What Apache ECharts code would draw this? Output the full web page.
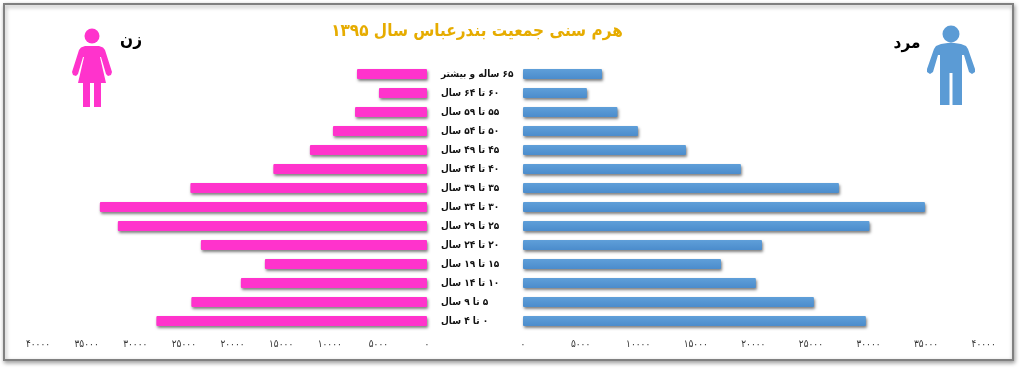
<!DOCTYPE html>
<html><head><meta charset="utf-8">
<style>html,body{margin:0;padding:0;background:#fff}#c{width:1024px;height:370px}</style>
<script src="https://cdn.jsdelivr.net/npm/echarts@6/dist/echarts.min.js"></script>
</head><body><div id="c" dir="rtl"></div>
<script>
const titleText = 'هرم سنی جمعیت بندرعباس سال ۱۳۹۵';
const maleLabel = 'مرد';
const femaleLabel = 'زن';
const categories = ['۶۵ ساله و بیشتر','۶۰ تا ۶۴ سال','۵۵ تا ۵۹ سال','۵۰ تا ۵۴ سال','۴۵ تا ۴۹ سال','۴۰ تا ۴۴ سال','۳۵ تا ۳۹ سال','۳۰ تا ۳۴ سال','۲۵ تا ۲۹ سال','۲۰ تا ۲۴ سال','۱۵ تا ۱۹ سال','۱۰ تا ۱۴ سال','۵ تا ۹ سال','۰ تا ۴ سال'];
const maleValues = [6860,5550,8200,9980,14150,18920,27430,34900,30080,20750,17190,20220,25260,29770];
const femaleValues = [7200,4940,7400,9670,12040,15800,24330,33640,31790,23250,16670,19140,24230,27830];
const toFa = v => String(v).replace(/\d/g, d => '۰۱۲۳۴۵۶۷۸۹'[d]);
const font = '"DejaVu Sans Condensed","DejaVu Sans"';
const xAxisCommon = {type:'value',min:0,max:40000,interval:5000,splitLine:{show:false},axisLine:{show:false},axisTick:{show:false},
  axisLabel:{formatter:toFa,fontFamily:font,fontSize:10,color:'#333',margin:9,hideOverlap:false,showMinLabel:true,showMaxLabel:true}};
const barStyle = c => ({color:c,shadowColor:'rgba(0,0,0,0.5)',shadowBlur:3,shadowOffsetX:1,shadowOffsetY:2,borderRadius:1});
const blue = {type:'linear',x:0,y:0,x2:0,y2:1,colorStops:[{offset:0,color:'#5f9fd9'},{offset:1,color:'#4b8ccc'}]};
const maleBody = [[941,44],[951,42.500],[961,44],[966,46],[968,49],[975,69],[975,72],[972,74],[969,72],[964,55],[962,55],[962,105],[952.500,105],[952.500,73],[949.500,73],[949.500,105],[940,105],[940,55],[938,55],[933,72],[930,74],[927,72],[927,69],[934,49],[936,46]];
const femaleBody = [[85,46],[99,46],[103,47.500],[105,50],[112,72],[111,75],[108,76],[106,74],[101,57],[100,57],[106,83],[101,83],[101,107],[94,107],[94,83],[90,83],[90,107],[83,107],[83,83],[78,83],[84,57],[83,57],[78,74],[76,76],[73,75],[72,72],[79,50],[81,47.500]];
const chart = echarts.init(document.getElementById('c'),null,{renderer:'canvas'});
chart.setOption({
  animation:false,
  backgroundColor:'#fff',
  grid:[{left:38,top:64.5,width:389,height:266},{left:523,top:64.5,width:460.7,height:266}],
  xAxis:[Object.assign({gridIndex:0,inverse:true},xAxisCommon),Object.assign({gridIndex:1},xAxisCommon)],
  yAxis:[
    {gridIndex:0,type:'category',inverse:true,data:categories,axisLine:{show:false},axisTick:{show:false},axisLabel:{show:false}},
    {gridIndex:1,type:'category',inverse:true,data:categories,axisLine:{show:false},axisTick:{show:false},
     axisLabel:{margin:82,align:'left',fontFamily:font,fontWeight:'bold',fontSize:10,color:'#111',interval:0}}
  ],
  series:[
    {name:femaleLabel,type:'bar',xAxisIndex:0,yAxisIndex:0,data:femaleValues,barWidth:10,itemStyle:barStyle('#ff33cc')},
    {name:maleLabel,type:'bar',xAxisIndex:1,yAxisIndex:1,data:maleValues,barWidth:10,itemStyle:barStyle(blue)}
  ],
  graphic:[
    {type:'rect',z:-10,shape:{x:4,y:4,width:1009,height:356},style:{fill:'#fff',stroke:'#808080',lineWidth:2,shadowColor:'rgba(0,0,0,0.35)',shadowBlur:4,shadowOffsetX:1,shadowOffsetY:2}},
    {type:'circle',shape:{cx:951,cy:34,r:8.500},style:{fill:'#5b9bd5'}},
    {type:'polygon',shape:{points:maleBody},style:{fill:'#5b9bd5'}},
    {type:'circle',shape:{cx:92,cy:36,r:7.500},style:{fill:'#ff33cc'}},
    {type:'polygon',shape:{points:femaleBody},style:{fill:'#ff33cc'}},
    {type:'text',x:477,y:32,style:{text:titleText,fill:'#e6ac00',font:'bold 17px '+font,textAlign:'center',textVerticalAlign:'middle',shadowColor:'rgba(0,0,0,0.35)',shadowBlur:2,shadowOffsetX:1,shadowOffsetY:1}},
    {type:'text',x:131,y:41,style:{text:femaleLabel,fill:'#000',font:'bold 17px '+font,textAlign:'center',textVerticalAlign:'middle'}},
    {type:'text',x:907,y:44,style:{text:maleLabel,fill:'#000',font:'bold 17px '+font,textAlign:'center',textVerticalAlign:'middle'}}
  ]
});
</script></body></html>
